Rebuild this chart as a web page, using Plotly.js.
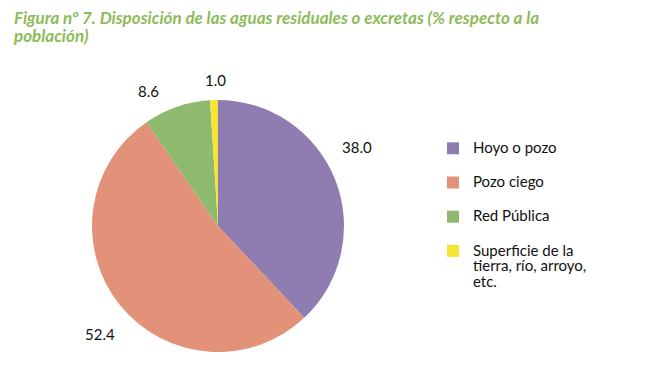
<!DOCTYPE html>
<html>
<head>
<meta charset="utf-8">
<script src="https://cdn.plot.ly/plotly-3.0.1.min.js"></script>
<style>html,body{margin:0;padding:0;background:#fff;}#chart{width:666px;height:384px;}</style>
</head>
<body>
<div id="chart"></div>
<script>
const categories = ["Hoyo o pozo", "Pozo ciego", "Red Pública", "Superficie de la<br>tierra, río, arroyo,<br>etc."];
const values = [38.0, 52.4, 8.6, 1.0];
const colors = ["#8F7DB1", "#E3927A", "#8DBA6E", "#F6E632"];
const titleText = "Figura nº 7. Disposición de las aguas residuales o excretas (% respecto a la<br>población)";

// label anchor points (paper px) for value labels
const labelPos = [[357,147],[100,334],[148,91],[215,80]];

const W = 666, H = 384;
const big = s => s.split("<br>").map(l => "<span style='font-size:15px'>" + l + "</span>").join("<br>");
const legendLabels = categories.map((c, i) => big(c) + (i < categories.length - 1 ? "<br> " : ""));

const trace = {
  type: "pie",
  labels: legendLabels,
  values: values,
  sort: false,
  direction: "clockwise",
  rotation: 0,
  marker: {colors: colors, line: {width: 0}},
  textinfo: "none",
  hoverinfo: "none",
  domain: {x: [92/W, 344/W], y: [32/H, 284/H]}
};

const annotations = values.map((v, i) => ({
  text: v.toFixed(1),
  x: labelPos[i][0] / W, y: 1 - labelPos[i][1] / H,
  xref: "paper", yref: "paper", showarrow: false,
  xanchor: "center", yanchor: "middle",
  font: {family: "Lato, sans-serif", size: 15, color: "#111"}
}));

const titleHtml = titleText.split("<br>").map(l => "<span style='font-size:17px'><b><i>" + l + "</i></b></span>").join("<br>");

const layout = {
  width: W, height: H,
  margin: {l: 0, r: 0, t: 0, b: 0},
  paper_bgcolor: "#fff",
  title: {
    text: titleHtml,
    x: 14/W, xanchor: "left", y: 1 - 24/H, yanchor: "top",
    xref: "paper", yref: "paper",
    font: {family: "Lato, sans-serif", size: 14, color: "#8DBB5A"}
  },
  showlegend: true,
  legend: {
    x: 433/W, y: 1 - 134/H, xanchor: "left", yanchor: "top",
    font: {family: "Lato, sans-serif", size: 12, color: "#111"},
    valign: "top", traceorder: "normal"
  },
  annotations: annotations
};

Plotly.newPlot("chart", [trace], layout, {displayModeBar: false, staticPlot: true});
</script>
</body>
</html>
